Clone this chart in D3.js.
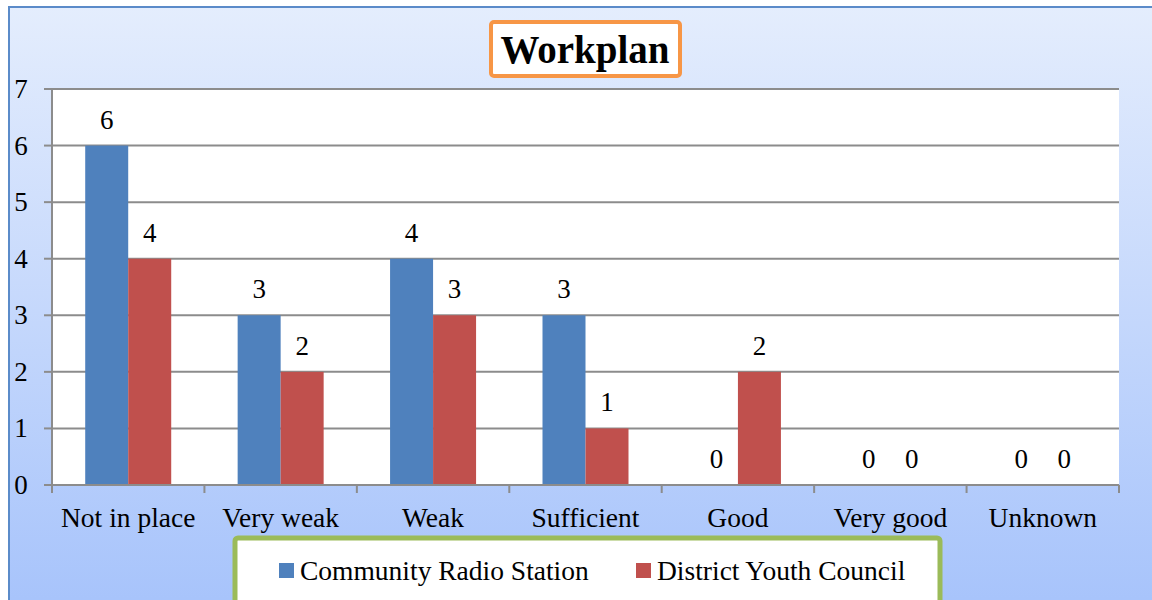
<!DOCTYPE html>
<html>
<head>
<meta charset="utf-8">
<script src="https://cdn.jsdelivr.net/npm/d3@7"></script>
<style>
  body { margin: 0; background: #fff; }
  svg { display: block; }
  text { font-family: "Liberation Serif", "DejaVu Serif", serif; fill: #000; }
</style>
</head>
<body>
<svg id="chart" width="1152" height="600"></svg>
<script>
var categories = ["Not in place", "Very weak", "Weak", "Sufficient", "Good", "Very good", "Unknown"];
var seriesNames = ["Community Radio Station", "District Youth Council"];
var radio = [6, 3, 4, 3, 0, 0, 0];
var council = [4, 2, 3, 1, 2, 0, 0];
var yTicks = [0, 1, 2, 3, 4, 5, 6, 7];
var colors = ["#4f81bd", "#c0504d"];

var margin = {top: 89, left: 52, right: 33, bottom: 115},
    width = 1152 - margin.left - margin.right,
    height = 600 - margin.top - margin.bottom;

var svg = d3.select("#chart");

// background with gradient
var defs = svg.append("defs");
var grad = defs.append("linearGradient")
    .attr("id", "bg")
    .attr("x1", 0).attr("y1", 0).attr("x2", 0).attr("y2", 1);
grad.append("stop").attr("offset", "0%").attr("stop-color", "#e4edfd");
grad.append("stop").attr("offset", "100%").attr("stop-color", "#a5c2fb");

svg.append("rect")
    .attr("x", 9).attr("y", 7)
    .attr("width", 1160).attr("height", 620)
    .attr("fill", "url(#bg)")
    .attr("stroke", "#5b8bc9")
    .attr("stroke-width", 2);

var chart = svg.append("g")
    .attr("transform", "translate(" + margin.left + "," + margin.top + ")");

chart.append("rect")
    .attr("width", width).attr("height", height)
    .attr("fill", "#fff");

var x = d3.scaleBand().domain(categories).range([0, width]);
var y = d3.scaleLinear().domain([0, 7]).range([height, 0]);
var barW = 43;

// gridlines
chart.selectAll(".grid")
    .data(yTicks.slice(1))
    .enter().append("line")
    .attr("x1", 0).attr("x2", width)
    .attr("y1", function(d) { return y(d); })
    .attr("y2", function(d) { return y(d); })
    .attr("stroke", "#8c8c8c")
    .attr("stroke-width", 2);

var series = [radio, council];
series.forEach(function(vals, s) {
    chart.selectAll(".bar" + s)
        .data(vals)
        .enter().append("rect")
        .attr("x", function(d, i) { return x(categories[i]) + x.bandwidth() / 2 - barW + s * barW; })
        .attr("y", function(d) { return y(d); })
        .attr("width", barW)
        .attr("height", function(d) { return height - y(d); })
        .attr("fill", colors[s]);

    chart.selectAll(".lab" + s)
        .data(vals)
        .enter().append("text")
        .attr("x", function(d, i) { return x(categories[i]) + x.bandwidth() / 2 - barW / 2 + s * barW; })
        .attr("y", function(d) { return y(d) - 17; })
        .attr("text-anchor", "middle")
        .style("font-size", "27px")
        .text(function(d) { return d; });
});

// y axis
var yAxis = chart.append("g").attr("class", "y axis");
yAxis.append("line")
    .attr("x1", 0).attr("x2", 0).attr("y1", 0).attr("y2", height)
    .attr("stroke", "#8c8c8c").attr("stroke-width", 2);
yAxis.selectAll(".yt")
    .data(yTicks)
    .enter().append("line")
    .attr("x1", -8).attr("x2", 0)
    .attr("y1", function(d) { return y(d); })
    .attr("y2", function(d) { return y(d); })
    .attr("stroke", "#8c8c8c").attr("stroke-width", 2);
yAxis.selectAll(".yl")
    .data(yTicks)
    .enter().append("text")
    .attr("x", -31)
    .attr("y", function(d) { return y(d) + 9; })
    .attr("text-anchor", "middle")
    .style("font-size", "27px")
    .text(function(d) { return d; });

// x axis
var xAxis = chart.append("g").attr("class", "x axis")
    .attr("transform", "translate(0," + height + ")");
xAxis.append("line")
    .attr("x1", 0).attr("x2", width)
    .attr("stroke", "#8c8c8c").attr("stroke-width", 2);
xAxis.selectAll(".xt")
    .data(categories.concat([null]))
    .enter().append("line")
    .attr("x1", function(d, i) { return i * x.step(); })
    .attr("x2", function(d, i) { return i * x.step(); })
    .attr("y1", 0).attr("y2", 8)
    .attr("stroke", "#8c8c8c").attr("stroke-width", 2);
xAxis.selectAll(".xl")
    .data(categories)
    .enter().append("text")
    .attr("x", function(d) { return x(d) + x.bandwidth() / 2; })
    .attr("y", 42)
    .attr("text-anchor", "middle")
    .style("font-size", "27.5px")
    .text(function(d) { return d; });

// title
svg.append("rect")
    .attr("x", 491).attr("y", 22)
    .attr("width", 189).attr("height", 54)
    .attr("rx", 3)
    .attr("fill", "#fff")
    .attr("stroke", "#f79646")
    .attr("stroke-width", 4);
svg.append("text")
    .attr("x", 585).attr("y", 63)
    .attr("text-anchor", "middle")
    .style("font-size", "39px")
    .style("font-weight", "bold")
    .text("Workplan");

// legend
svg.append("rect")
    .attr("x", 235).attr("y", 538)
    .attr("width", 705).attr("height", 90)
    .attr("rx", 3)
    .attr("fill", "#fff")
    .attr("stroke", "#9bbb59")
    .attr("stroke-width", 5);
var legX = [279, 636];
seriesNames.forEach(function(name, s) {
    svg.append("rect")
        .attr("x", legX[s]).attr("y", 563)
        .attr("width", 15).attr("height", 15)
        .attr("fill", colors[s]);
    svg.append("text")
        .attr("x", legX[s] + 21).attr("y", 580)
        .style("font-size", "27.5px")
        .text(name);
});
</script>
</body>
</html>
